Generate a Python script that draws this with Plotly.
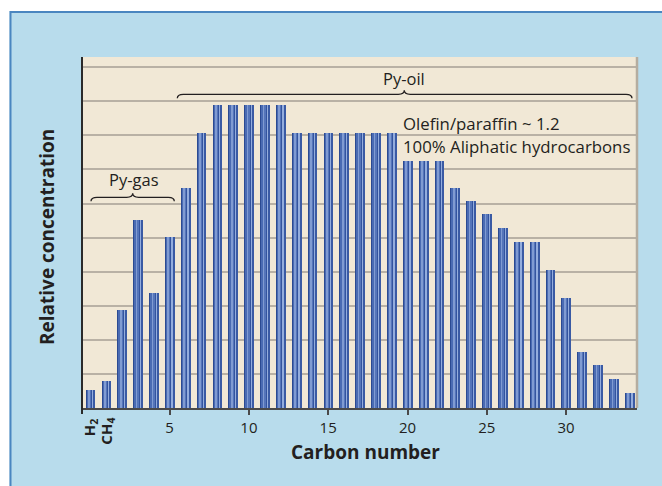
import plotly.graph_objects as go

# ---- data ----
positions = list(range(0, 35))          # 0 = H2, 1 = CH4, 2..34 = C2..C34
concentration = [0.54, 0.78, 2.89, 5.53, 3.38, 5.02, 6.47, 8.08,
                 8.9, 8.9, 8.9, 8.9, 8.9,
                 8.08, 8.08, 8.08, 8.08, 8.08, 8.08, 8.08,
                 7.26, 7.26, 7.26, 6.47, 6.06, 5.68, 5.27, 4.86, 4.86,
                 4.06, 3.24, 1.63, 1.25, 0.84, 0.43]
tick_vals = [5, 10, 15, 20, 25, 30]
tick_text = ["5", "10", "15", "20", "25", "30"]

W, H = 662, 486
L, R, T, B = 82, 25, 57, 78
x_range = [-0.523, 34.47]
y_range = [0, 10.3]
pw = W - L - R
ph = H - T - B
ux = pw / (x_range[1] - x_range[0])   # px per x unit
uy = ph / (y_range[1] - y_range[0])   # px per y unit

FONT = "Open Sans"
TXT = "#231f20"

def px_x(px):
    return x_range[0] + (px - L) / ux

def paper_x(px):
    return (px - L) / pw

def paper_y(py):
    return (H - B - py) / ph

fig = go.Figure()

# cylinder-like bars built from overlaid stripes (pixel widths across a 9.3px bar)
bar_px = 9.3
stripes = [
    (0.0, 9.3, "#2b4a92"),
    (1.0, 3.0, "#4a6bb3"),
    (3.0, 4.7, "#809bd2"),
    (4.7, 6.0, "#5575ba"),
    (6.0, 7.0, "#34549e"),
    (7.0, 8.3, "#94addd"),
    (8.3, 9.3, "#3a5aa4"),
]
for a, b, c in stripes:
    fig.add_trace(go.Bar(
        x=positions, y=concentration,
        width=(b - a) / ux,
        offset=(a - bar_px / 2) / ux,
        marker=dict(color=c, line=dict(width=0)),
        hoverinfo="skip", showlegend=False,
    ))

def brace(x0, x1, xm, y, end_px=4, tip_px=4, r_px=6):
    ye = y - end_px / uy
    yt = y + tip_px / uy
    rx = r_px / ux
    return (f"M {x0},{ye} Q {x0},{y} {x0+rx},{y} L {xm-rx},{y} "
            f"Q {xm},{y} {xm},{yt} Q {xm},{y} {xm+rx},{y} "
            f"L {x1-rx},{y} Q {x1},{y} {x1},{ye}")

shapes = []
# Py-oil brace
shapes.append(dict(type="path", xref="x", yref="y",
                   path=brace(px_x(177.3), px_x(632), px_x(404.3), (408 - 94.3) / uy),
                   line=dict(color=TXT, width=1.3)))
# Py-gas brace
shapes.append(dict(type="path", xref="x", yref="y",
                   path=brace(px_x(91), px_x(174.3), px_x(132.7), (408 - 197.3) / uy),
                   line=dict(color=TXT, width=1.3)))
# right edge shadow of plot area
shapes.append(dict(type="line", xref="paper", yref="paper", x0=1, x1=1, y0=0, y1=1,
                   line=dict(color="#b5ada0", width=2.5)))
# white strips outside the blue box + box border
shapes.append(dict(type="rect", xref="paper", yref="paper", layer="below",
                   x0=paper_x(-5), x1=paper_x(W + 5), y0=paper_y(11), y1=paper_y(-5),
                   fillcolor="white", line=dict(width=0)))
shapes.append(dict(type="rect", xref="paper", yref="paper", layer="below",
                   x0=paper_x(-5), x1=paper_x(9.5), y0=paper_y(H + 5), y1=paper_y(-5),
                   fillcolor="white", line=dict(width=0)))
shapes.append(dict(type="line", xref="paper", yref="paper", layer="below",
                   x0=paper_x(10.5), x1=paper_x(W + 5), y0=paper_y(12), y1=paper_y(12),
                   line=dict(color="#4a86c0", width=2)))
shapes.append(dict(type="line", xref="paper", yref="paper", layer="below",
                   x0=paper_x(10.5), x1=paper_x(10.5), y0=paper_y(11), y1=paper_y(H + 5),
                   line=dict(color="#4a86c0", width=2)))
# left axis line
shapes.append(dict(type="line", xref="paper", yref="paper",
                   x0=0, x1=0, y0=paper_y(414), y1=1,
                   line=dict(color="#2a2a2a", width=2)))

annotations = [
    dict(text="Py-oil", x=px_x(404), xref="x", y=paper_y(79), yref="paper",
         showarrow=False, xanchor="center", yanchor="middle",
         font=dict(family=FONT, size=16.5, color=TXT)),
    dict(text="Py-gas", x=px_x(134), xref="x", y=paper_y(179), yref="paper",
         showarrow=False, xanchor="center", yanchor="middle",
         font=dict(family=FONT, size=16.5, color=TXT)),
    dict(text="Olefin/paraffin ~ 1.2", x=paper_x(401), xref="paper", y=paper_y(123), yref="paper",
         showarrow=False, xanchor="left", yanchor="middle",
         font=dict(family=FONT, size=16.8, color=TXT)),
    dict(text="100% Aliphatic hydrocarbons", x=paper_x(401), xref="paper", y=paper_y(146), yref="paper",
         showarrow=False, xanchor="left", yanchor="middle",
         font=dict(family=FONT, size=16.8, color=TXT)),
    dict(text="<b>Relative concentration</b>", x=paper_x(47), xref="paper", y=paper_y(237), yref="paper",
         showarrow=False, textangle=-90, xanchor="center", yanchor="middle",
         font=dict(family=FONT, size=19, color=TXT)),
    dict(text="<b>Carbon number</b>", x=paper_x(365), xref="paper", y=paper_y(452), yref="paper",
         showarrow=False, xanchor="center", yanchor="middle",
         font=dict(family=FONT, size=19, color=TXT)),
    dict(text="<b>H<sub>2</sub></b>", x=0, xref="x", y=paper_y(416), yref="paper",
         showarrow=False, textangle=-90, xanchor="center", yanchor="top",
         font=dict(family=FONT, size=15, color=TXT)),
    dict(text="<b>CH<sub>4</sub></b>", x=1, xref="x", y=paper_y(416), yref="paper",
         showarrow=False, textangle=-90, xanchor="center", yanchor="top",
         font=dict(family=FONT, size=15, color=TXT)),
]

fig.update_layout(
    width=W, height=H,
    margin=dict(l=L, r=R, t=T, b=B, pad=0),
    paper_bgcolor="#b8dcec",
    plot_bgcolor="#f1e8d6",
    barmode="overlay",
    bargap=0,
    showlegend=False,
    shapes=shapes,
    annotations=annotations,
    xaxis=dict(range=x_range, tickmode="array", tickvals=tick_vals, ticktext=tick_text,
               showgrid=False, zeroline=False, showline=True, linecolor="#4a4a4a", linewidth=2,
               ticks="outside", ticklen=5, tickwidth=1.5, tickcolor="#4a4a4a",
               tickfont=dict(family=FONT, size=15, color=TXT), fixedrange=True),
    yaxis=dict(range=y_range, dtick=1, tick0=0, showticklabels=False, ticks="",
               showgrid=True, gridcolor="#b9b1a5", gridwidth=1.5,
               zeroline=False, showline=False, fixedrange=True),
)

fig.write_html("out.html", config={"displayModeBar": False},
               post_script="document.body.style.margin='0px';document.body.style.overflow='hidden';")
